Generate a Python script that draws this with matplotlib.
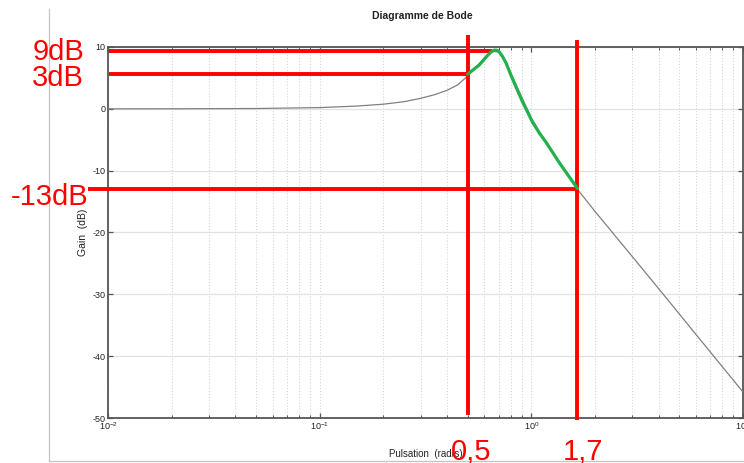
"""
Diagramme de Bode - gain curve with annotated band
"""

import matplotlib.pyplot as plt
from matplotlib.lines import Line2D

# gain curve (rad/s, dB)
omega = [0.01, 0.02, 0.05, 0.1, 0.15, 0.2, 0.25, 0.3, 0.35, 0.4, 0.45, 0.5,
         0.55, 0.6, 0.65, 0.7, 0.75, 0.8, 0.9, 1.0, 1.2, 1.4, 1.65,
         2.0, 3.0, 4.0, 6.0, 10.0]
gain_db = [0.0, 0.01, 0.05, 0.2, 0.45, 0.75, 1.15, 1.7, 2.3, 3.0, 3.9, 5.3,
           6.8, 8.2, 9.3, 9.2, 7.8, 5.8, 1.9, -1.5, -6.0, -9.5, -13.0,
           -16.6, -23.9, -29.1, -36.5, -45.8]

# highlighted (green) part between the two markers
omega_hl = [0.50, 0.568, 0.62, 0.646, 0.669, 0.69, 0.706, 0.73, 0.76,
            0.802, 0.85, 0.907, 0.96, 1.011, 1.09, 1.173, 1.355, 1.653]
gain_hl = [5.6, 7.1, 8.6, 9.2, 9.5, 9.45, 9.2, 8.5, 7.4,
           5.4, 3.4, 1.2, -0.5, -2.1, -3.9, -5.4, -8.7, -12.9]

# marker lines
freq_marks = [0.5, 1.65]
freq_labels = ['0,5', '1,7']
gain_marks = [9.4, 5.6, -13.0]
gain_labels = ['9dB', '3dB', '-13dB']
gain_ends = [0.65, 0.5, 1.65]

plt.rcParams['font.family'] = ['Liberation Sans', 'DejaVu Sans']
plt.rcParams['axes.unicode_minus'] = False

W, H = 744, 463
fig = plt.figure(figsize=(W / 100, H / 100), dpi=100)

ax = fig.add_axes([108 / W, 1 - 418 / H, 635 / W, 371 / H])

ax.semilogx(omega, gain_db, color='#808080', linewidth=0.9, zorder=3)

red = '#ff0000'
# horizontal markers
hstarts = [0.0101, 0.0101, 0.00805]
for g, x0, x1 in zip(gain_marks, hstarts, gain_ends):
    ax.plot([x0, x1], [g, g], color=red, linewidth=2.8, clip_on=False,
            solid_capstyle='butt', zorder=4)
# vertical markers
vspans = [(11.9, -49.5), (11.1, -50.4)]
for f, (y0, y1) in zip(freq_marks, vspans):
    ax.plot([f, f], [y0, y1], color=red, linewidth=2.8, clip_on=False,
            solid_capstyle='butt', zorder=4)

ax.plot(omega_hl, gain_hl, color='#22b14c', linewidth=2.3, zorder=5,
        solid_capstyle='round', solid_joinstyle='round')

ax.set_xlim(0.01, 10)
ax.set_ylim(-50, 10)
ax.set_yticks(range(-50, 11, 10))

ax.yaxis.grid(True, which='major', color='#e2e2e2', linestyle='-', linewidth=0.9)
ax.xaxis.grid(True, which='both', color='#d5d5d5', linestyle=':', linewidth=0.8)
ax.set_axisbelow(True)

for s in ax.spines.values():
    s.set_color('#555555')
    s.set_linewidth(1.3)
ax.tick_params(which='both', direction='in', top=True, right=True,
               colors='#555555', labelcolor='#222222', labelsize=6.5, pad=2)
ax.tick_params(which='major', length=3.5, width=0.9)
ax.tick_params(which='minor', length=2.5, width=0.7)

ax.set_xlabel('Pulsation  (rad/s)', fontsize=7, color='#222222', labelpad=12)
ax.set_ylabel('Gain  (dB)', fontsize=7.5, color='#222222', labelpad=3)
fig.text(422 / W, 1 - 16 / H, 'Diagramme de Bode', fontsize=7.5,
         fontweight='bold', ha='center', va='center', color='#222222')

# red annotations
label_pos = [(84, 60), (84, 86), (88, 205)]
for t, (px, py) in zip(gain_labels, label_pos):
    fig.text(px / W, 1 - py / H, t, fontsize=21, color=red,
             ha='right', va='baseline', zorder=6)
for t, px in zip(freq_labels, [471, 583]):
    fig.text(px / W, 1 - 460 / H, t, fontsize=21, color=red,
             ha='center', va='baseline', zorder=6)

# screenshot frame
frame = '#c4c4c4'
fig.add_artist(Line2D([49 / W, 49 / W], [1 - 9 / H, 1 - 461 / H],
                      color=frame, linewidth=0.9))
fig.add_artist(Line2D([49 / W, 1.0], [1 - 461 / H, 1 - 461 / H],
                      color=frame, linewidth=0.9))

fig.savefig('out.png', dpi=100)
